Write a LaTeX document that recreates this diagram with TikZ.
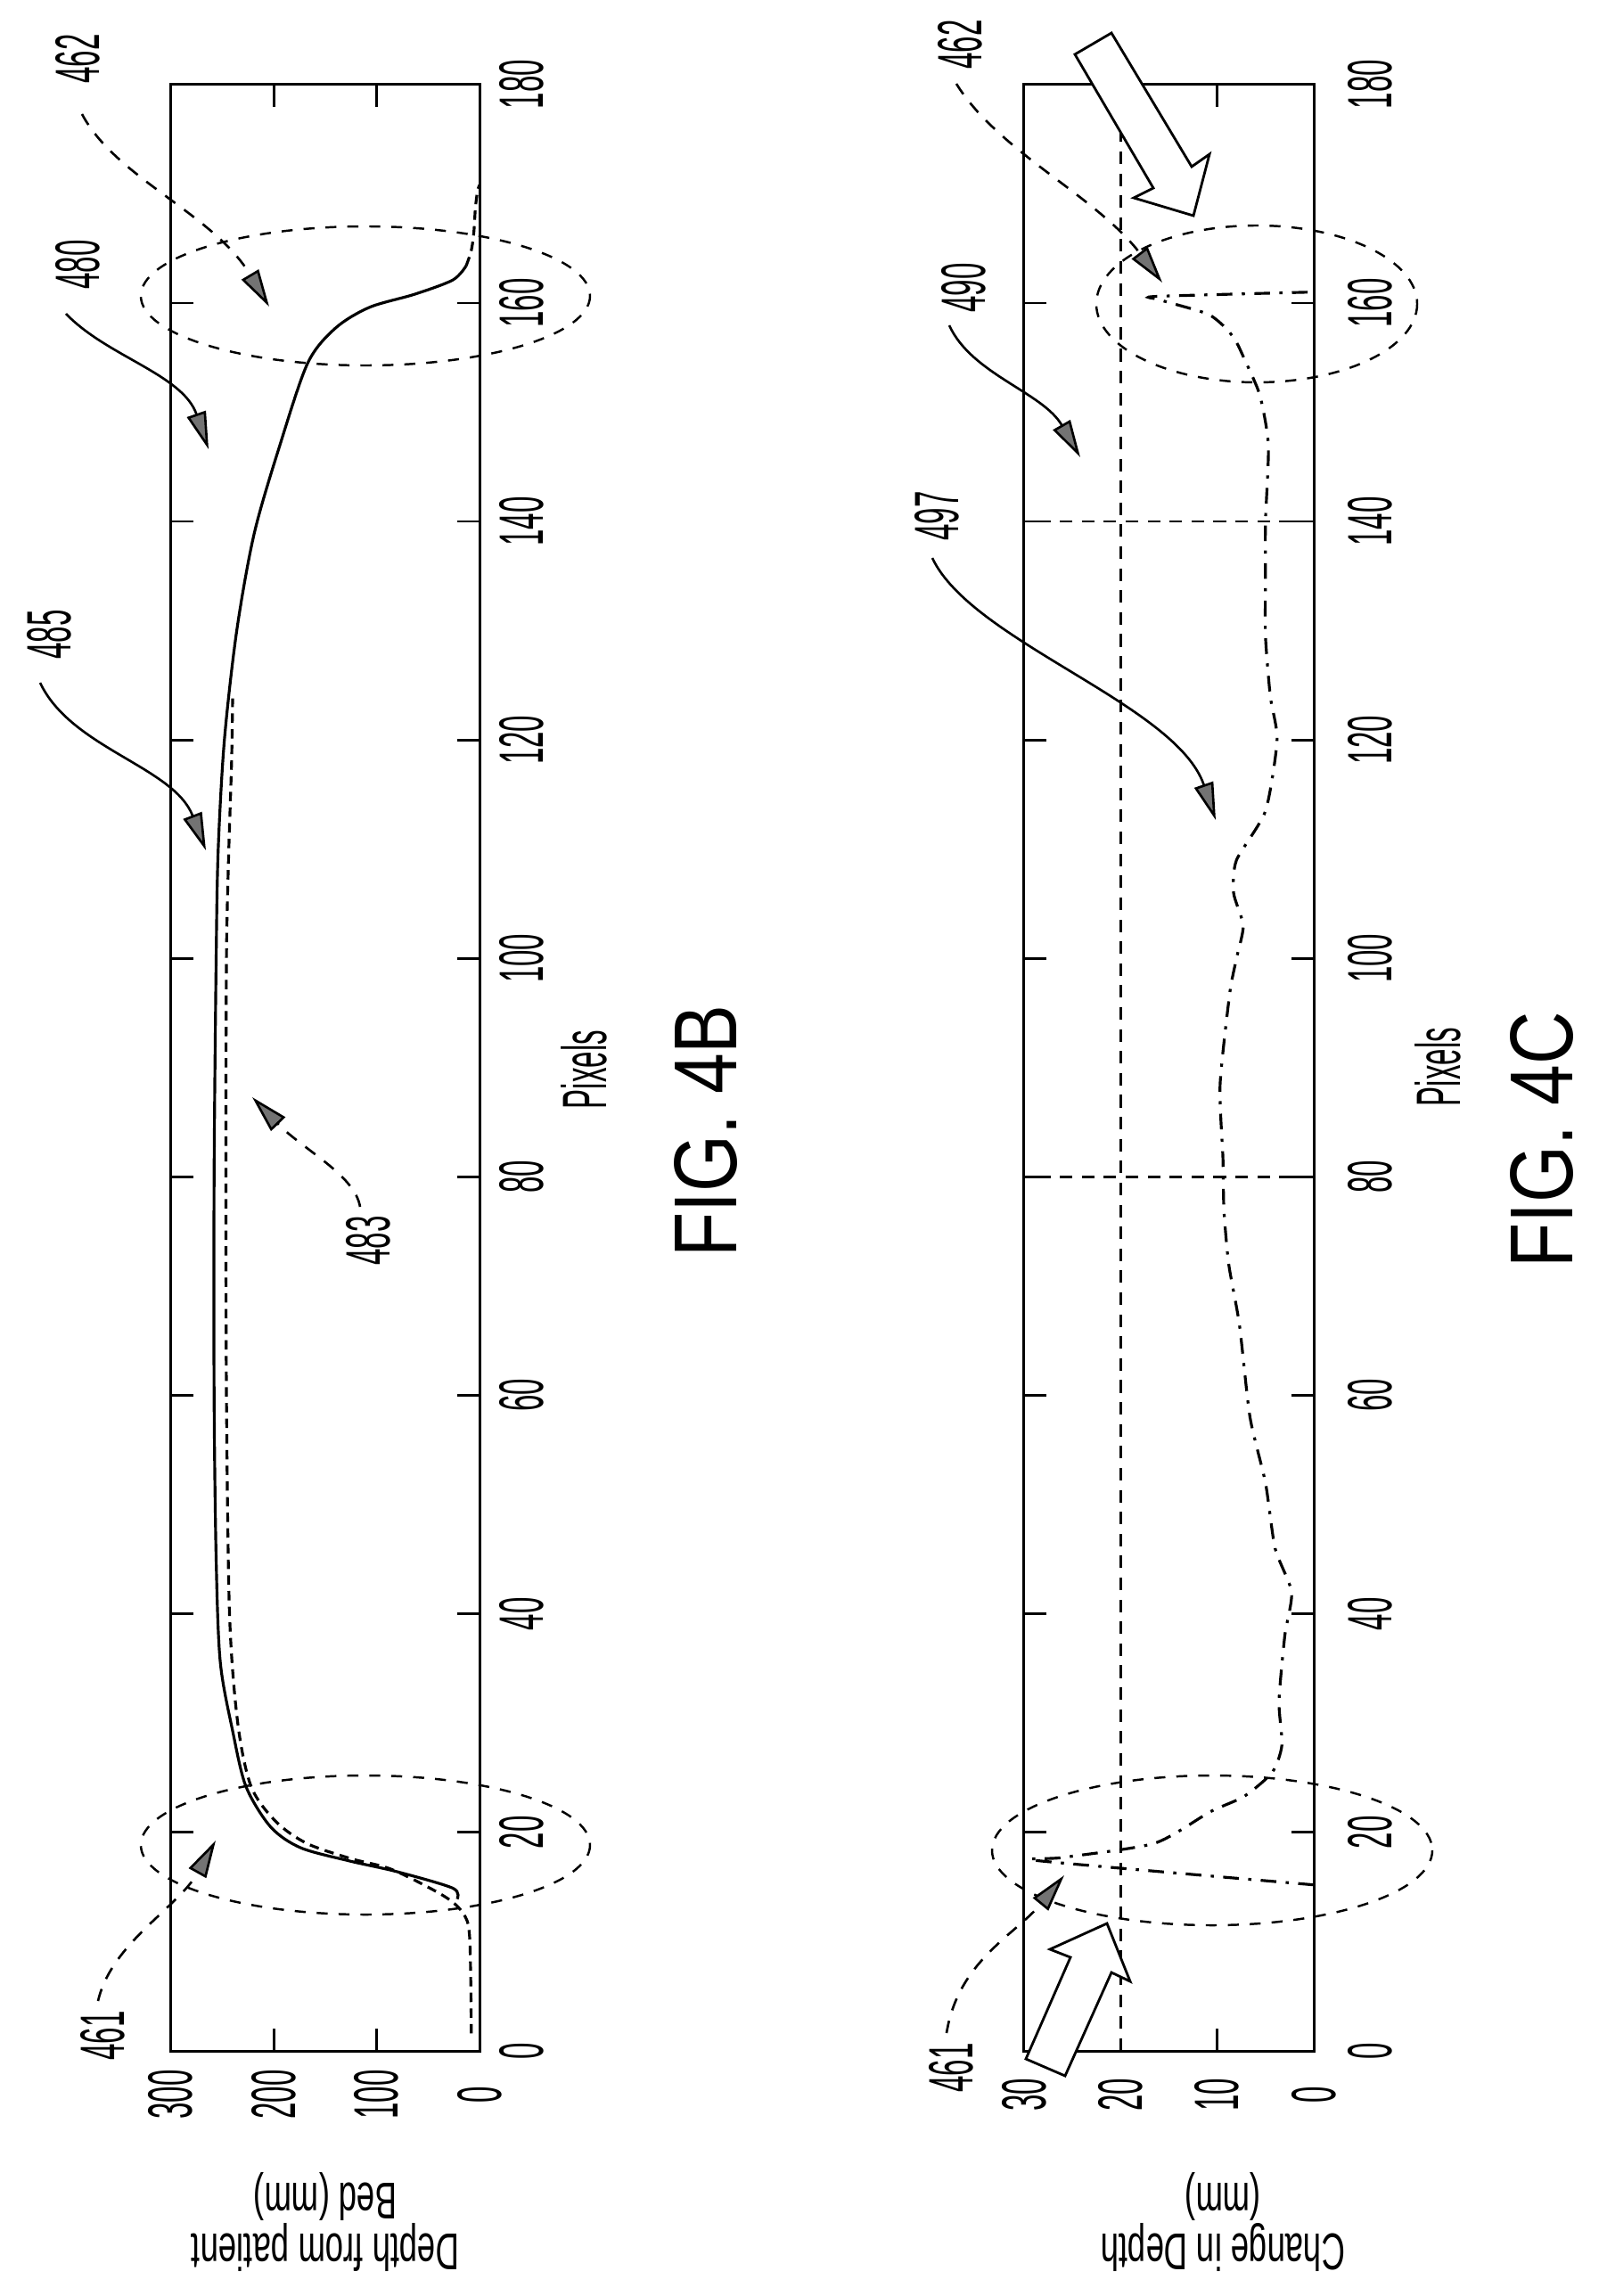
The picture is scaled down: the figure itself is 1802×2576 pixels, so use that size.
\documentclass[tikz,border=0pt]{standalone}
\usepackage{fontspec}
\setmainfont{Liberation Sans}
\newfontfamily\narrowfont{Liberation Sans}[FakeStretch=0.47]
\newfontfamily\titlefont{Liberation Sans}[FakeStretch=0.63]
\newfontfamily\figfont{Liberation Sans}[FakeStretch=0.82]
\usetikzlibrary{arrows.meta, calc}

\tikzset{
    frame/.style={line width=0.85pt},
    tickmark/.style={line width=0.8pt},
    numlabel/.style={rotate=90, font=\narrowfont\fontsize{20}{20}\selectfont, inner sep=0pt},
    axtitle/.style={rotate=180, align=center, font=\titlefont\fontsize{16.5}{15}\selectfont, inner sep=0pt},
    figlabel/.style={rotate=90, font=\figfont\fontsize{28.5}{28.5}\selectfont, inner sep=0pt, text height=0.72em, text depth=0pt},
    ring/.style={dash pattern=on 3.5pt off 3.5pt, line width=0.7pt},
    grid/.style={dash pattern=on 4pt off 3pt, line width=0.8pt},
    leader/.style={line width=0.75pt, -{Triangle[length=0.42cm, width=0.22cm, fill=black!55]}},
    dleader/.style={leader, dash pattern=on 4pt off 3.5pt},
    bigarrow/.style={draw, fill=white, line width=0.8pt, line join=miter},
    depthcurve/.style={line width=0.9pt},
    basecurve/.style={dash pattern=on 3pt off 2pt, line width=0.9pt},
    diffcurve/.style={dash pattern=on 5pt off 3pt on 1pt off 3pt, line width=0.9pt}
}

\begin{document}
\begin{tikzpicture}[x=0.01cm, y=-0.01cm]
\useasboundingbox (0,0) rectangle (1802,2576);

% ---------- FIG. 4B ----------
\begin{scope}[shift={(538,2301)}, x={(0cm,0.1225cm)}, y={(-0.011533cm,0cm)}]
  \draw[frame] (0,0) rectangle (180,300);
  \foreach \p in {20,40,...,160}
    \draw[tickmark] (\p,0) -- (\p,21.7) (\p,300) -- (\p,278.3);
  \foreach \d in {100,200}
    \draw[tickmark] (0,\d) -- (2.04,\d) (180,\d) -- (177.96,\d);
  \foreach \p in {0,20,...,180}
    \node[numlabel] (pb\p) at (\p,-40.8) {\p};
  \foreach \d in {0,100,200,300}
    \node[numlabel] (db\d) at (-4,\d) {\d};
  % measured depth
  \draw[depthcurve] plot[smooth, tension=0.5] coordinates {(13.9,21.7) (14.9,26) (16.4,80) (17.4,127) (18.6,174) (20.5,203) (24.2,227) (29.3,240) (35.6,252) (45,256) (60,258) (80,258) (100,256) (110,254) (120,248) (130,236) (138.9,219) (147,194) (154.5,167) (157.7,140) (159.6,107) (160.8,63) (162.1,26) (163.4,13)};
  % bed baseline
  \draw[basecurve] plot[smooth, tension=0.5] coordinates {(1.6,8) (10.4,9.6) (12.6,16) (14.2,35) (16.6,85) (17.6,125) (19,168) (21,198) (24.2,222) (30,235) (40,243) (60,246) (82,246.5) (100,246) (109,244) (118,241) (123.8,240)};
  \draw[basecurve] plot[smooth, tension=0.5] coordinates {(163.4,13) (164.8,8) (166.5,5.5) (168.7,4) (170.2,2) (170.8,0)};
\end{scope}

\draw[ring] (410,2070) ellipse [x radius=252, y radius=78];
\draw[ring] (410,332) ellipse [x radius=252, y radius=78];

\node[numlabel] (l461b) at (115,2284) {461};
\node[numlabel] (l462b) at (87,66) {462};
\node[numlabel] (l480) at (87,297) {480};
\node[numlabel] (l485) at (55,712) {485};
\node[numlabel] (l483) at (413,1392) {483};

\coordinate (s461b) at (110,2245);  \coordinate (t461b) at (242,2065);
\coordinate (s462b) at (92,128);    \coordinate (t462b) at (302,344);
\coordinate (s480) at (74,352);     \coordinate (t480) at (234,504);
\coordinate (s485) at (45,766);     \coordinate (t485) at (231,954);
\coordinate (s483) at (404,1354);   \coordinate (t483) at (283,1231);

\draw[dleader] (s461b) .. controls (125,2180) and (200,2140) .. (t461b);
\draw[dleader] (s462b) .. controls (130,200) and (240,240) .. (t462b);
\draw[leader] (s480) .. controls (120,400) and (205,420) .. (t480);
\draw[leader] (s485) .. controls (80,840) and (195,860) .. (t485);
\draw[dleader] (s483) .. controls (398,1318) and (340,1290) .. (t483);

\node[axtitle] (ytb) at (365,2493) {Depth from patient\\Bed (mm)};
\node[numlabel] (xtb) at (655,1200) {Pixels};
\node[figlabel] (figb) at (814,1269) {FIG. 4B};

% ---------- FIG. 4C ----------
\begin{scope}[shift={(1474,2301)}, x={(0cm,0.1225cm)}, y={(-0.10833cm,0cm)}]
  \draw[frame] (0,0) rectangle (180,30);
  \foreach \p in {20,40,...,160}
    \draw[tickmark] (\p,0) -- (\p,2.31) (\p,30) -- (\p,27.69);
  \draw[tickmark] (0,10) -- (2.04,10) (180,10) -- (177.96,10);
  \foreach \p in {80,140}
    \draw[grid] (\p,0) -- (\p,30);
  \draw[grid] (0,20) -- (180,20);
  \foreach \p in {0,20,...,180}
    \node[numlabel] (pc\p) at (\p,-5.8) {\p};
  \foreach \d in {0,10,20,30}
    \node[numlabel] (dc\d) at (-4,\d) {\d};
  % change in depth
  \draw[diffcurve] plot[smooth, tension=0.4] coordinates {(15.2,0) (17.4,28.4) (17.7,26) (19,16.5) (21.9,10.7) (23.3,7.2) (25.5,4.3) (28,3.3) (32,3.6) (38,3) (42,2.3) (46,4) (52,5) (58,6.6) (66.5,7.7) (72,8.8) (77,9.3) (81.7,9.4) (88.4,9.7) (96.8,8.7) (100,8) (103,7.3) (106,8.3) (109,8) (113.5,5) (120,3.8) (124,4.5) (129.5,5) (135,5) (140,5) (147,4.7) (151.6,5.6) (154.9,7.2) (156.4,8) (157.6,9) (159,11) (160.3,16) (160.6,16.3) (161,0)};
\end{scope}

\draw[ring] (1360,2076) ellipse [x radius=247, y radius=84];
\draw[ring] (1410,341) ellipse [x radius=180, y radius=88];

% hollow pointers
\draw[bigarrow] (1151,2310) -- (1195,2329) -- (1247,2213) -- (1268,2223) -- (1242,2158) -- (1178,2187) -- (1201,2196) -- cycle;
\draw[bigarrow] (1206,61) -- (1247,37) -- (1337,187) -- (1357,173) -- (1339,242) -- (1272,222) -- (1294,211) -- cycle;

\node[numlabel] (l461c) at (1067,2320) {461};
\node[numlabel] (l462c) at (1077,50) {462};
\node[numlabel] (l490) at (1081,323) {490};
\node[numlabel] (l497) at (1051,579) {497};

\coordinate (s461c) at (1062,2281); \coordinate (t461c) at (1194,2104);
\coordinate (s462c) at (1073,94);   \coordinate (t462c) at (1304,317);
\coordinate (s490) at (1065,365);   \coordinate (t490) at (1212,513);
\coordinate (s497) at (1046,626);   \coordinate (t497) at (1364,920);

\draw[dleader] (s461c) .. controls (1075,2200) and (1140,2170) .. (t461c);
\draw[dleader] (s462c) .. controls (1120,170) and (1230,220) .. (t462c);
\draw[leader] (s490) .. controls (1090,420) and (1170,440) .. (t490);
\draw[leader] (s497) .. controls (1090,720) and (1320,790) .. (t497);

\node[axtitle] (ytc) at (1372,2493) {Change in Depth\\(mm)};
\node[numlabel] (xtc) at (1613,1197) {Pixels};
\node[figlabel] (figc) at (1752,1279) {FIG. 4C};
\end{tikzpicture}
\end{document}
